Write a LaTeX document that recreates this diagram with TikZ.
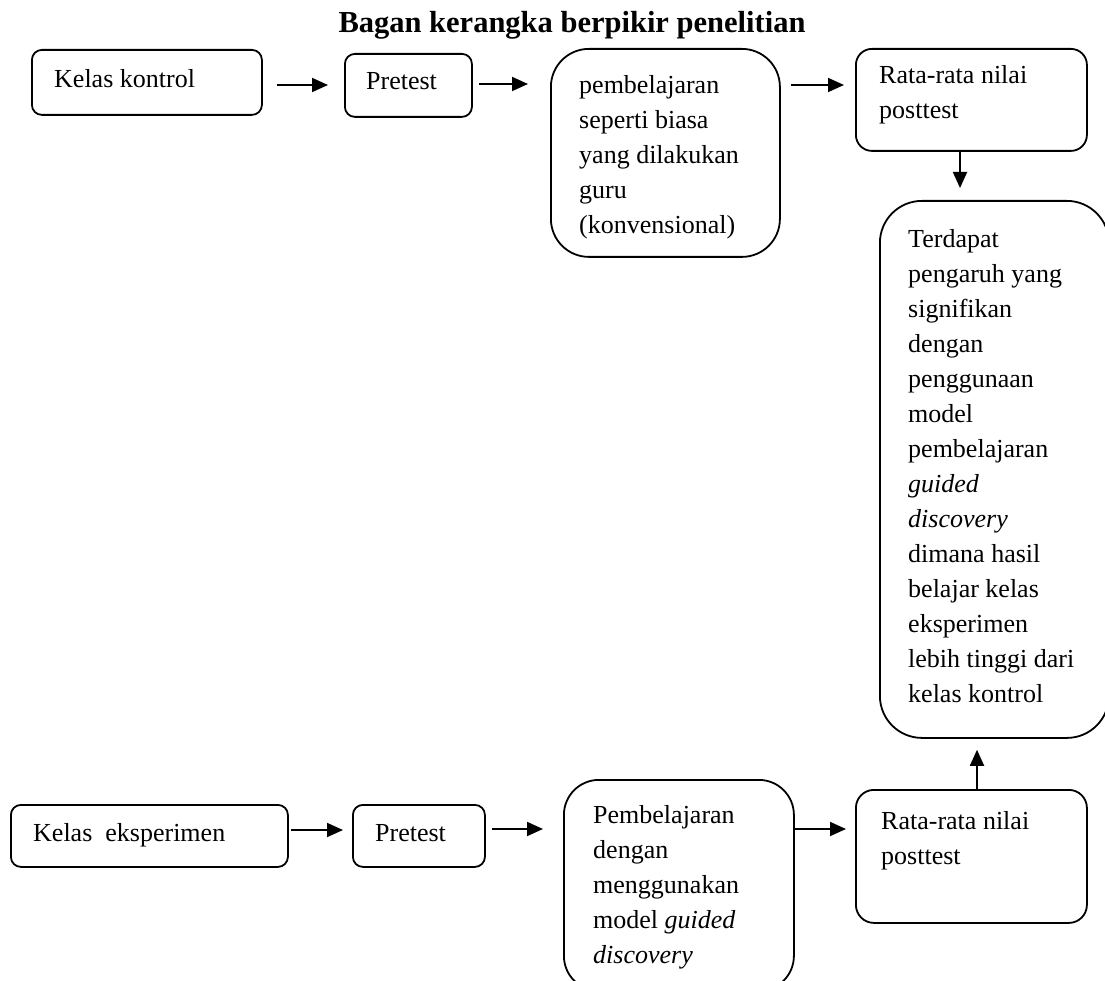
\documentclass[tikz,border=0pt]{standalone}
\usepackage{fontspec}
\setmainfont{Liberation Serif}
\usetikzlibrary{arrows.meta}
\newcommand{\bodyfont}{\fontsize{26}{35}\selectfont}
\newcommand{\titlefont}{\fontsize{30.5}{36}\selectfont\bfseries}
\begin{document}
\begin{tikzpicture}[x=1pt,y=-1pt,
  box/.style={draw, line width=1.8pt, inner sep=0pt, anchor=north west},
  txt/.style={anchor=base west, inner sep=0pt, align=left, font=\bodyfont},
  arr/.style={-{Triangle[length=16pt,width=14pt]}, line width=1.8pt}]
\clip (0,0) rectangle (1105,981);
\fill[white] (0,0) rectangle (1105,981);
% title
\node[anchor=base, inner sep=0pt, font=\titlefont] (title) at (572,33) {Bagan kerangka berpikir penelitian};
% top row boxes
\node[box, rounded corners=10pt, minimum width=230pt, minimum height=65pt] (kk) at (31,49) {};
\node[box, rounded corners=10pt, minimum width=127pt, minimum height=63pt] (pre) at (344,53) {};
\node[box, rounded corners=38pt, minimum width=229pt, minimum height=208pt] (pb) at (550,48) {};
\node[box, rounded corners=16pt, minimum width=231pt, minimum height=102pt] (rt) at (855,48) {};
\node[box, rounded corners=42pt, minimum width=229pt, minimum height=537pt] (td) at (879,200) {};
% bottom row boxes
\node[box, rounded corners=10pt, minimum width=277pt, minimum height=62pt] (ke) at (10,804) {};
\node[box, rounded corners=10pt, minimum width=132pt, minimum height=62pt] (pre2) at (352,804) {};
\node[box, rounded corners=35pt, minimum width=230pt, minimum height=211pt] (pb2) at (563,779) {};
\node[box, rounded corners=18pt, minimum width=231pt, minimum height=133pt] (rb) at (855,789) {};
% texts (base anchor = baseline of the last line)
\node[txt] (tkk) at (54,88) {Kelas kontrol};
\node[txt] (tpre) at (366,90) {Pretest};
\node[txt] (tpb) at (579,234) {pembelajaran\\seperti biasa\\yang dilakukan\\guru\\(konvensional)};
\node[txt] (trt) at (879,119) {Rata-rata nilai\\posttest};
\node[txt] (ttd) at (908,702) {Terdapat\\pengaruh yang\\signifikan\\dengan\\penggunaan\\model\\pembelajaran\\\textit{guided}\\\textit{discovery}\\dimana hasil\\belajar kelas\\eksperimen\\lebih tinggi dari\\kelas kontrol};
\node[txt] (tke) at (33,841) {Kelas\ \ eksperimen};
\node[txt] (tpre2) at (375,841) {Pretest};
\node[txt] (tpb2) at (593,963) {Pembelajaran\\dengan\\menggunakan\\model \textit{guided}\\\textit{discovery}};
\node[txt] (trb) at (881,864) {Rata-rata nilai\\posttest};
% arrows top
\draw[arr, shorten <=14pt, shorten >=16pt] (kk.east |- 0,85) -- (pre.west |- 0,85);
\draw[arr, shorten <=6pt, shorten >=22pt] (pre.east |- 0,84) -- (pb.west |- 0,84);
\draw[arr, shorten <=10pt, shorten >=11pt] (pb.east |- 0,85) -- (rt.west |- 0,85);
\draw[arr, shorten >=12pt] (rt.south -| 960,0) -- (td.north -| 960,0);
% arrows bottom
\draw[arr, shorten <=2pt, shorten >=9pt] (ke.east |- 0,830) -- (pre2.west |- 0,830);
\draw[arr, shorten <=6pt, shorten >=20pt] (pre2.east |- 0,829) -- (pb2.west |- 0,829);
\draw[arr, shorten >=9pt] (pb2.east |- 0,829) -- (rb.west |- 0,829);
\draw[arr, shorten >=11pt] (rb.north -| 977,0) -- (td.south -| 977,0);
\end{tikzpicture}
\end{document}
